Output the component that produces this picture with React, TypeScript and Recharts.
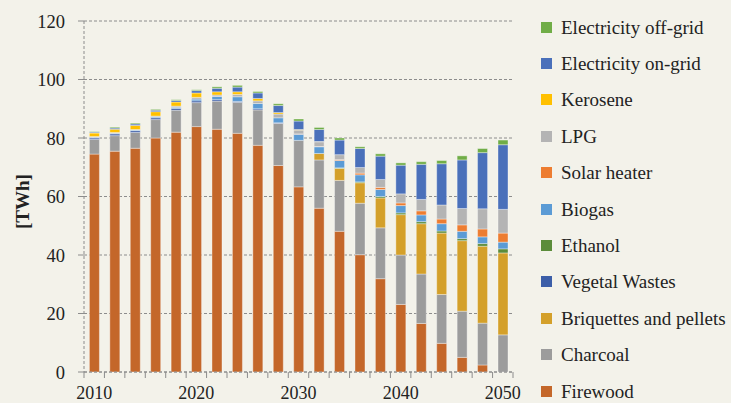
import React from 'react';
import { BarChart, Bar, XAxis, YAxis, CartesianGrid, Legend } from 'recharts';

const YEARS = [2010, 2012, 2014, 2016, 2018, 2020, 2022, 2024, 2026, 2028, 2030, 2032, 2034, 2036, 2038, 2040, 2042, 2044, 2046, 2048, 2050];
const Y_TICKS = [0, 20, 40, 60, 80, 100, 120];

const firewood = [74.5, 75.5, 76.5, 80.0, 82.0, 83.9, 83.0, 81.6, 77.5, 70.6, 63.3, 56.0, 48.1, 40.1, 31.9, 23.1, 16.6, 9.8, 5.0, 2.4, 0];
const charcoal = [5.0, 5.3, 5.4, 6.3, 7.5, 8.2, 9.6, 10.6, 12.1, 14.4, 15.9, 16.5, 17.4, 17.6, 17.4, 16.9, 16.9, 16.7, 15.8, 14.3, 12.7];
const briquettes = [0, 0, 0, 0, 0, 0, 0, 0, 0, 0, 0, 2.2, 4.1, 7.0, 10.2, 13.8, 17.2, 21.0, 24.1, 26.3, 28.0];
const vegetal = [0.5, 0.6, 0.6, 0.6, 0.6, 0.6, 0.5, 0.3, 0.4, 0.2, 0, 0, 0, 0, 0, 0, 0, 0, 0, 0, 0];
const ethanol = [0, 0, 0, 0, 0, 0, 0, 0, 0, 0, 0, 0, 0.2, 0.3, 0.5, 0.6, 0.7, 0.7, 0.7, 0.9, 1.4];
const biogas = [0.2, 0.2, 0.2, 0.3, 0.4, 0.6, 1.1, 1.6, 1.8, 1.7, 2.1, 2.3, 2.5, 2.4, 2.4, 2.5, 2.3, 2.5, 2.5, 2.3, 2.3];
const solar = [0, 0, 0, 0, 0, 0, 0, 0, 0, 0, 0.1, 0.1, 0.3, 0.6, 0.7, 0.9, 1.4, 1.6, 2.2, 2.7, 3.1];
const lpg = [0.3, 0.3, 0.2, 0.3, 0.4, 0.6, 0.5, 0.8, 0.9, 1.3, 1.3, 1.6, 1.7, 1.9, 2.7, 3.1, 3.9, 4.8, 5.6, 6.9, 8.1];
const kerosene = [1.2, 1.1, 1.4, 1.5, 1.4, 1.5, 1.1, 0.9, 0.8, 0.5, 0.2, 0.1, 0, 0, 0, 0, 0, 0, 0, 0, 0];
const onGrid = [0.3, 0.4, 0.5, 0.5, 0.5, 0.8, 1.2, 1.6, 1.9, 2.4, 2.9, 4.1, 5.0, 6.5, 8.0, 9.8, 12.0, 14.1, 16.6, 19.2, 22.1];
const offGrid = [0.2, 0.3, 0.3, 0.3, 0.3, 0.3, 0.5, 0.6, 0.5, 0.6, 0.7, 0.7, 0.7, 0.6, 0.8, 0.8, 0.9, 1.1, 1.4, 1.4, 1.6];

// stack order: bottom to top
const SERIES = [
  { key: 'firewood', name: 'Firewood', color: '#C4672A', values: firewood },
  { key: 'charcoal', name: 'Charcoal', color: '#9C9C9C', values: charcoal },
  { key: 'briquettes', name: 'Briquettes and pellets', color: '#D4A02A', values: briquettes },
  { key: 'vegetal', name: 'Vegetal Wastes', color: '#3C5EA8', values: vegetal },
  { key: 'ethanol', name: 'Ethanol', color: '#5B8C3A', values: ethanol },
  { key: 'biogas', name: 'Biogas', color: '#5B9BD5', values: biogas },
  { key: 'solar', name: 'Solar heater', color: '#ED7D31', values: solar },
  { key: 'lpg', name: 'LPG', color: '#B4B4B4', values: lpg },
  { key: 'kerosene', name: 'Kerosene', color: '#FFC000', values: kerosene },
  { key: 'onGrid', name: 'Electricity on-grid', color: '#4A70BA', values: onGrid },
  { key: 'offGrid', name: 'Electricity off-grid', color: '#70AD47', values: offGrid },
];

const data = YEARS.map((year, i) => {
  const row: Record<string, number> = { year };
  SERIES.forEach((s) => {
    row[s.key] = s.values[i];
  });
  return row;
});

const FONT = '"Liberation Serif", "DejaVu Serif", serif';
const TEXT = '#222222';
const GRID = '#8C8C8C';
const BG = '#F3F2EA';

const XTick = (props: any) => {
  const { x, y, payload, index } = props;
  const half = payload && typeof payload.offset === 'number' && payload.offset > 0 ? payload.offset : 10.2;
  const axisY = y - 8;
  return (
    <g>
      <line x1={x - half} x2={x - half} y1={axisY} y2={axisY + 6} stroke={GRID} strokeWidth={1} />
      {index === YEARS.length - 1 && (
        <line x1={x + half} x2={x + half} y1={axisY} y2={axisY + 6} stroke={GRID} strokeWidth={1} />
      )}
      {index % 5 === 0 && (
        <text x={x} y={axisY + 27} textAnchor="middle" fontFamily={FONT} fontSize={18} fill={TEXT}>
          {payload.value}
        </text>
      )}
    </g>
  );
};

const LegendContent = () => {
  const items = [...SERIES].reverse();
  return (
    <div style={{ paddingLeft: 28, paddingTop: 9 }}>
      {items.map((s) => (
        <div key={s.key} style={{ height: 36.4, display: 'flex', alignItems: 'center' }}>
          <span style={{ width: 11, height: 11, background: s.color, display: 'inline-block', marginRight: 9, flexShrink: 0 }} />
          <span style={{ fontFamily: FONT, fontSize: 19, color: TEXT, whiteSpace: 'nowrap', lineHeight: 1 }}>{s.name}</span>
        </div>
      ))}
    </div>
  );
};

const YLabel = (props: any) => {
  const vb = props.viewBox || { x: 0, y: 21, width: 84, height: 351 };
  const cx = 22;
  const cy = vb.y + vb.height / 2 + 5;
  return (
    <text
      x={cx}
      y={cy}
      transform={`rotate(-90, ${cx}, ${cy})`}
      textAnchor="middle"
      dominantBaseline="central"
      fontFamily={FONT}
      fontSize={19}
      fontWeight="bold"
      fill={TEXT}
    >
      [TWh]
    </text>
  );
};

export default function App() {
  return (
    <div style={{ position: 'absolute', left: 0, top: 0, width: 731, height: 403, background: BG, overflow: 'hidden' }}>
      <BarChart
        width={731}
        height={403}
        data={data}
        margin={{ top: 21, right: 0, bottom: 1, left: 0 }}
        barCategoryGap="26.5%"
      >
        <CartesianGrid vertical={false} stroke={GRID} strokeDasharray="3 2" />
        <XAxis
          dataKey="year"
          type="category"
          interval={0}
          height={30}
          tickSize={6}
          tickMargin={2}
          tickLine={false}
          axisLine={{ stroke: GRID, strokeDasharray: '3 2' }}
          tick={<XTick />}
        />
        <YAxis
          domain={[0, 120]}
          ticks={Y_TICKS}
          width={84}
          interval={0}
          tickSize={6}
          tickMargin={13}
          tickLine={{ stroke: GRID }}
          axisLine={{ stroke: GRID, strokeDasharray: '3 2' }}
          tick={{ fontFamily: FONT, fontSize: 18.5, fill: TEXT }}
          label={{ content: <YLabel /> }}
        />
        <Legend
          layout="vertical"
          align="right"
          verticalAlign="top"
          wrapperStyle={{ width: 218, right: 0, top: 0 }}
          content={<LegendContent />}
        />
        {SERIES.map((s) => (
          <Bar
            key={s.key}
            dataKey={s.key}
            name={s.name}
            stackId="a"
            fill={s.color}
            stroke="rgba(255,255,255,0.45)"
            strokeWidth={0.8}
            isAnimationActive={false}
          />
        ))}
      </BarChart>
    </div>
  );
}
